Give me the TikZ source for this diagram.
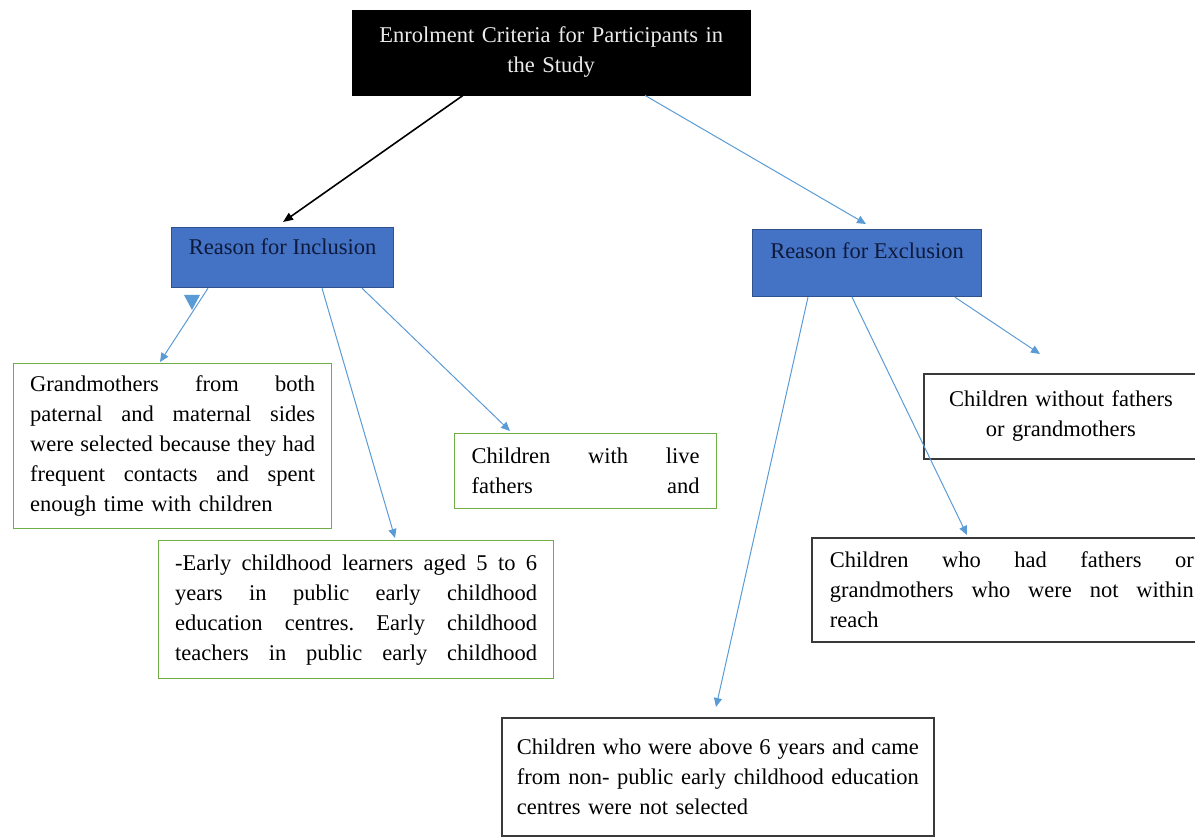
\documentclass[tikz,border=0pt]{standalone}
\usepackage{fontspec}
\setmainfont{Liberation Serif}
\usepackage{xcolor}
\usepackage{tikz}
\usetikzlibrary{arrows.meta}

\definecolor{reasonfill}{HTML}{4472C4}
\definecolor{reasonline}{HTML}{2F528F}
\definecolor{reasontext}{HTML}{0E1A3C}
\definecolor{linkblue}{HTML}{5B9BD5}
\definecolor{critgreen}{HTML}{70AD47}
\definecolor{exclline}{HTML}{3A3A3A}

% a spread word gap for the justified lines
\newcommand{\gap}{\hspace{0pt plus 1fill}}

\tikzset{
    every node/.style={font=\fontsize{22.5pt}{30pt}\selectfont, anchor=north west},
    titlebox/.style={fill=black, draw=black, text=white!92!black, align=center,
        inner xsep=16pt, inner ysep=0pt},
    reasonbox/.style={fill=reasonfill, draw=reasonline, line width=1.2pt, text=reasontext,
        inner xsep=0pt, inner ysep=10pt},
    inclbox/.style={draw=critgreen, line width=1.3pt, align=left, inner ysep=0pt},
    exclbox/.style={draw=exclline, line width=1.8pt, inner ysep=0pt},
    mainlink/.style={draw=black, line width=1.6pt, -{Triangle[length=10pt,width=8pt]}},
    sublink/.style={draw=linkblue, line width=1pt, -{Triangle[length=9pt,width=8pt]}}
}

\begin{document}
\begin{tikzpicture}[x=1pt, y=-1pt]
        \useasboundingbox (0,0) rectangle (1195,837);

        % title and the two reasons
        \node[titlebox, text width=366pt, minimum width=398pt, minimum height=85pt, text depth=36pt] (title) at (352,10)
            {Enrolment Criteria for Participants in\\the Study};
        \node[reasonbox, minimum width=222pt, minimum height=60pt, text height=17pt, text depth=23pt] (incl) at (171,227)
            {Reason for Inclusion};
        \node[reasonbox, minimum width=229pt, minimum height=67pt, text height=19pt, text depth=28pt] (excl) at (752,229)
            {Reason for Exclusion};

        % inclusion criteria
        \node[inclbox, text width=285pt, inner xsep=16.5pt, minimum height=165pt] (grand) at (13,363)
            {Grandmothers\gap from\gap both\\
             paternal\gap and\gap maternal\gap sides\\
             were\gap selected\gap because\gap they\gap had\\
             frequent\gap contacts\gap and\gap spent\\
             enough time with children};
        \node[inclbox, text width=228pt, inner xsep=17pt, minimum height=75pt] (live) at (454,433)
            {Children\gap with\gap live\\
             fathers\gap and};
        \node[inclbox, text width=362pt, inner xsep=16.5pt, minimum height=138pt] (learners) at (158,540)
            {-Early\gap childhood\gap learners\gap aged\gap 5\gap to\gap 6\\
             years\gap in\gap public\gap early\gap childhood\\
             education\gap centres.\gap Early\gap childhood\\
             teachers\gap in\gap public\gap early\gap childhood};

        % exclusion criteria
        \node[exclbox, align=center, text width=242pt, inner xsep=16pt, minimum height=85pt] (nofather) at (923,373)
            {Children without fathers\\or grandmothers};
        \node[exclbox, align=left, text width=364pt, inner xsep=18pt, minimum height=104pt] (notreach) at (811,537)
            {Children\gap who\gap had\gap fathers\gap or\\
             grandmothers\gap who\gap were\gap not\gap within\\
             reach};
        \node[exclbox, align=left, text width=402pt, inner xsep=15pt, minimum height=118pt] (above) at (501,717)
            {Children\gap who\gap were\gap above\gap 6\gap years\gap and\gap came\\
             from\gap non-\gap public\gap early\gap childhood\gap education\\
             centres were not selected};

        \coordinate (nofathertip) at ([xshift=117pt, yshift=19pt]nofather.north west);

        \draw[mainlink] ([xshift=111pt]title.south west) -- ([xshift=112pt, yshift=5pt]incl.north west);
        \draw[sublink] ([xshift=293pt]title.south west) -- ([xshift=114pt, yshift=5pt]excl.north west);

        \draw[sublink] ([xshift=37pt]incl.south west) -- ([xshift=147pt, yshift=1pt]grand.north west);
        \draw[sublink] ([xshift=151pt]incl.south west) -- ([xshift=237pt, yshift=2pt]learners.north west);
        \draw[sublink] ([xshift=191pt]incl.south west) -- ([xshift=56pt, yshift=2pt]live.north west);

        \draw[sublink] ([xshift=203pt]excl.south west) -- (nofathertip);
        \draw[sublink] ([xshift=100pt]excl.south west) -- ([xshift=156pt, yshift=2pt]notreach.north west);
        \draw[sublink] ([xshift=56pt]excl.south west) -- ([xshift=215pt, yshift=10pt]above.north west);

        % stray marker under the inclusion box
        \fill[linkblue] (184,295) -- (200,295) -- (192,310) -- cycle;
    \end{tikzpicture}
\end{document}
